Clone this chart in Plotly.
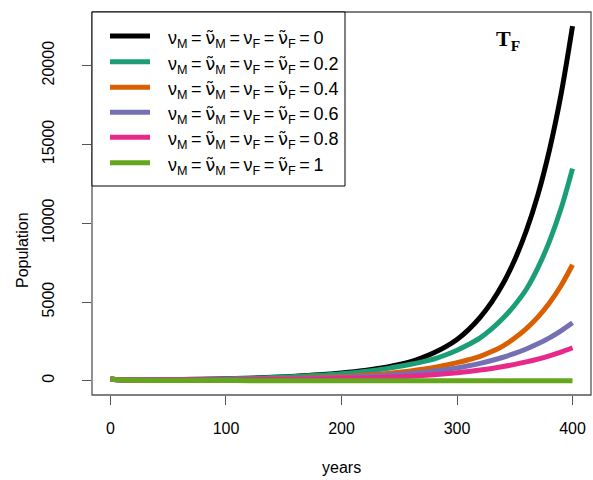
import plotly.graph_objects as go

years = [0, 5, 10, 20, 40, 60, 80, 100, 120, 140, 160, 180, 200, 220, 240,
         260, 270, 280, 290, 300, 310, 320, 330, 340, 350, 360, 370, 380, 390, 400]

pop_0 = [110, 75, 62, 55, 60, 75, 95, 130, 165, 220, 290, 380, 500, 660, 880,
         1210, 1470, 1780, 2150, 2620, 3250, 4030, 4995, 6190, 7680, 9520, 11800, 14640, 18150, 22500]
pop_02 = [110, 75, 60, 55, 62, 78, 97, 125, 160, 205, 270, 350, 455, 600, 790,
          1050, 1205, 1385, 1640, 1940, 2300, 2725, 3295, 3980, 4810, 5810, 7170, 8845, 10910, 13460]
pop_04 = [110, 72, 58, 50, 55, 62, 72, 88, 105, 130, 165, 210, 270, 355, 470,
          630, 735, 850, 990, 1150, 1335, 1550, 1855, 2220, 2710, 3310, 4040, 4935, 6030, 7365]
pop_06 = [110, 70, 56, 46, 50, 57, 65, 76, 90, 108, 133, 165, 210, 270, 350,
          460, 530, 610, 708, 820, 955, 1110, 1290, 1495, 1740, 2020, 2345, 2725, 3170, 3680]
pop_08 = [110, 65, 50, 40, 42, 46, 51, 58, 66, 77, 92, 112, 140, 178, 228,
          296, 340, 391, 450, 517, 595, 685, 787, 905, 1040, 1198, 1378, 1585, 1820, 2095]
pop_1 = [110, 65, 45, 30, 22, 18, 15, 13, 12, 11, 10, 9, 8.5, 8, 7.5,
         7, 6.8, 6.5, 6.2, 6, 5.8, 5.5, 5.2, 5, 5, 5, 4.8, 4.5, 4.2, 4]

series = [pop_0, pop_02, pop_04, pop_06, pop_08, pop_1]
values = ["0", "0.2", "0.4", "0.6", "0.8", "1"]
colors = ["#000000", "#1B9E77", "#D95F02", "#7570B3", "#E7298A", "#66A61E"]

y_ticks = [0, 5000, 10000, 15000, 20000]
y_ticktext = ["0", "5000", "10000", "15000", "20000"]
x_ticks = [0, 100, 200, 300, 400]

nu = "\u03bd"
nut = "<span style='font-family:DejaVu Sans'>\u03bd\u0303</span>"
eq = "\u2009=\u2009"
def label(v):
    return f"{nu}<sub>M</sub>{eq}{nut}<sub>M</sub>{eq}{nu}<sub>F</sub>{eq}{nut}<sub>F</sub>{eq}{v}"

W, H = 593, 480
L, R, T, B = 92, 2, 12, 85
pw, ph = W - L - R, H - T - B
def px(x):
    return (x - L) / pw
def py(y):
    return (H - B - y) / ph

fig = go.Figure()
for ys, v, c in zip(series, values, colors):
    fig.add_trace(go.Scatter(x=years, y=ys, mode="lines", name=label(v), showlegend=False,
                             line=dict(color=c, width=5, shape="spline", smoothing=1.0)))

font = "Liberation Sans, Arial, Helvetica, sans-serif"
axcol = "#555555"

# manual legend (box, line samples, labels)
leg_rows = [36, 61.7, 87.3, 112.3, 137.3, 162.7]
shapes = [dict(type="rect", xref="paper", yref="paper", x0=0, x1=1, y0=0, y1=1,
               line=dict(color=axcol, width=1.3), layer="above"),
          dict(type="rect", xref="paper", yref="paper", x0=px(92), x1=px(345), y0=py(186), y1=py(12),
               line=dict(color="black", width=1), fillcolor="white", layer="above")]
annotations = []
for yy, v, c in zip(leg_rows, values, colors):
    shapes.append(dict(type="line", xref="paper", yref="paper", x0=px(110), x1=px(150), y0=py(yy), y1=py(yy),
                       line=dict(color=c, width=5), layer="above"))
    annotations.append(dict(text=label(v), xref="paper", yref="paper", x=px(166), y=py(yy + 3),
                            showarrow=False, xanchor="left", yanchor="middle",
                            font=dict(size=18, family=font, color="black")))

annotations += [
    dict(text="Population", xref="paper", yref="paper", x=px(22), y=py(250),
         showarrow=False, textangle=-90, font=dict(size=16, family=font),
         xanchor="center", yanchor="middle"),
    dict(text="years", xref="paper", yref="paper", x=px(341), y=py(467),
         showarrow=False, font=dict(size=16, family=font),
         xanchor="center", yanchor="middle"),
    dict(text="<b>T<sub>F</sub></b>", xref="paper", yref="paper", x=px(508), y=py(40),
         showarrow=False, font=dict(size=22, family="Liberation Serif, Times New Roman, serif"),
         xanchor="center", yanchor="middle"),
]

fig.update_layout(
    width=W, height=H,
    margin=dict(l=L, r=R, t=T, b=B),
    paper_bgcolor="white", plot_bgcolor="white",
    font=dict(family=font, size=16, color="black"),
    showlegend=False,
    xaxis=dict(range=[-16, 416], tickvals=x_ticks,
               ticks="outside", ticklen=9, tickcolor=axcol, tickwidth=1,
               ticklabelstandoff=10,
               showgrid=False, zeroline=False, showline=False,
               tickfont=dict(size=16, family=font)),
    yaxis=dict(range=[-900, 23400], tickvals=y_ticks, ticktext=y_ticktext,
               ticks="outside", ticklen=9, tickcolor=axcol, tickwidth=1,
               tickangle=-90, ticklabelstandoff=22,
               showgrid=False, zeroline=False, showline=False,
               tickfont=dict(size=16, family=font)),
    shapes=shapes,
    annotations=annotations,
)

fig.write_html("out.html", config={"displayModeBar": False},
               post_script="document.body.style.margin='0';")
